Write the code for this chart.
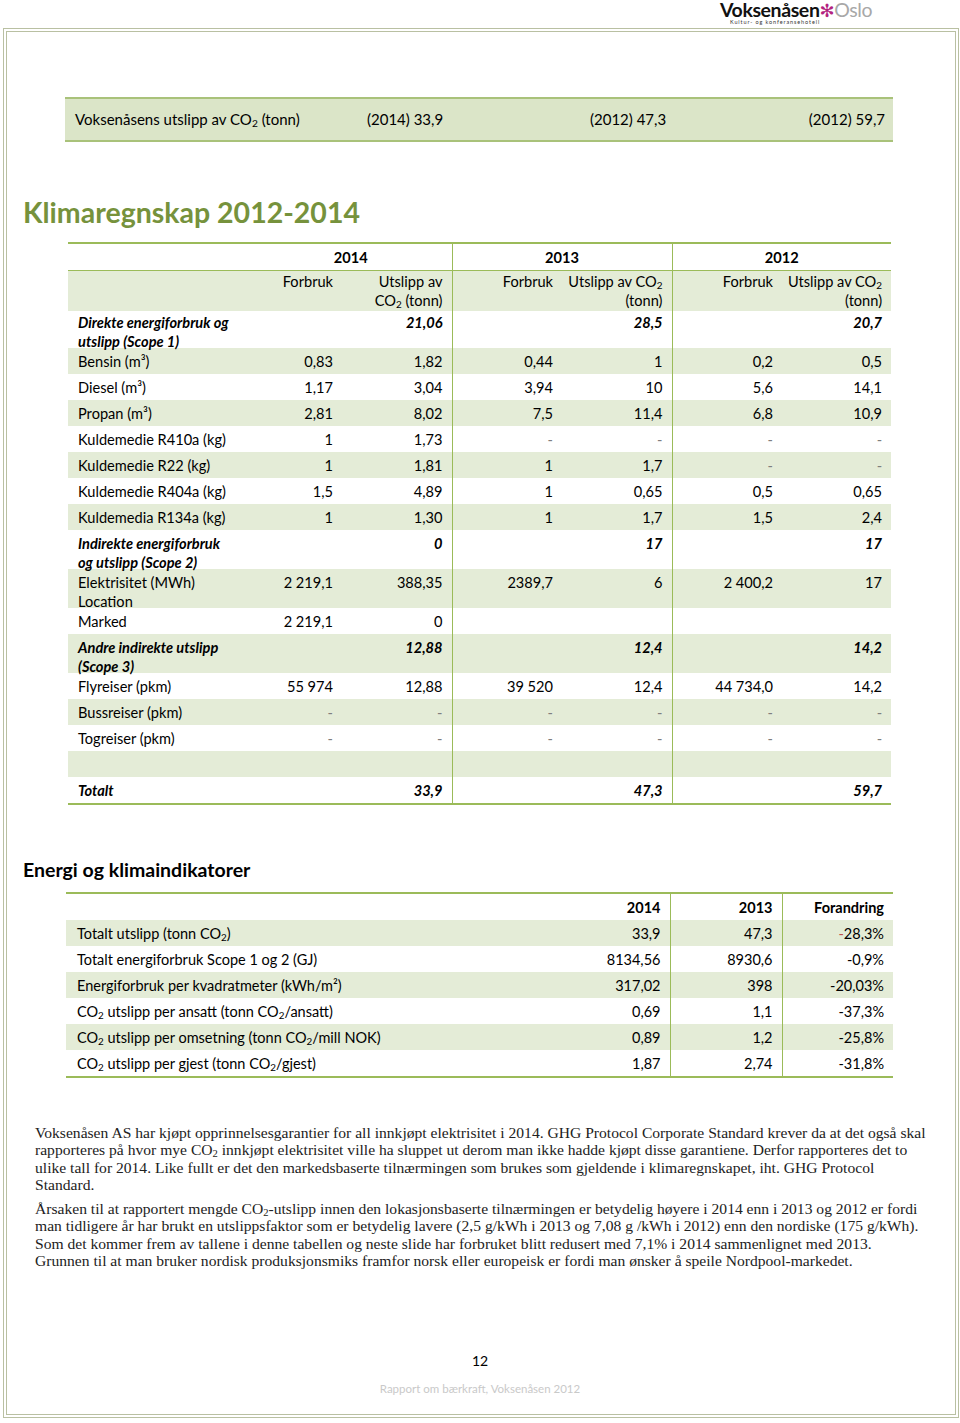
<!DOCTYPE html>
<html>
<head>
<meta charset="utf-8">
<script src="https://cdn.jsdelivr.net/npm/chart.js"></script>
<style>
  body { margin: 0; width: 960px; height: 1423px; background: #fff; position: relative; font-family: Lato, "Open Sans", sans-serif; color: #000; overflow: hidden; }
  .abs { position: absolute; }
  .frame { left: 3px; top: 28px; width: 948px; height: 1382px; border: 4px double #b9c0a2; }
  .logo { left: 720px; top: 2px; height: 20px; font-size: 19.5px; line-height: 15px; letter-spacing: -0.4px; white-space: nowrap; }
  .logo .v { font-weight: 700; color: #111; }
  .logo .f { color: #b3237f; font-family: "DejaVu Sans"; font-size: 18px; }
  .logo .o { color: #a8a8a8; }
  .logo .sub { position: absolute; left: 10px; top: 17px; font-size: 5.5px; line-height: 6px; letter-spacing: 0.9px; color: #333; }
  .bar { left: 65px; top: 97px; width: 828px; height: 41px; background: #dbe5c8; border-top: 2px solid #a9c27a; border-bottom: 2px solid #a9c27a; font-size: 15px; }
  .bar span { position: absolute; top: 11px; white-space: nowrap; }
  sub { font-size: 0.68em; vertical-align: -0.2em; line-height: 0; }
  sup { font-size: 0.68em; vertical-align: 0.45em; line-height: 0; }
  .title { left: 23px; top: 195px; font-size: 28.5px; font-weight: 700; color: #76923c; }
  .h2 { left: 23px; top: 858px; font-size: 19.5px; font-weight: 700; }
  table { border-collapse: collapse; table-layout: fixed; }
  td { padding: 0; vertical-align: top; }
  td > div { box-sizing: border-box; padding: 3.5px 9px 0 10px; line-height: 19px; white-space: pre-line; overflow: visible; }
  td.r > div { padding-left: 2px; }
  .main { left: 68px; top: 242px; width: 823px; font-size: 14.6px; border-top: 2px solid #9bbb59; border-bottom: 2px solid #9bbb59; }
  .main .vr { border-right: 1px solid #9bbb59; }
  .g { background: #e4ecd7; }
  .r { text-align: right; }
  .c { text-align: center; }
  .bi { font-weight: 700; font-style: italic; }
  .b { font-weight: 700; }
  .dash { color: #7f7f7f; }
  .ind { left: 66px; top: 892px; width: 827px; font-size: 14.5px; border-top: 2px solid #9bbb59; border-bottom: 2px solid #9bbb59; }
  .ind td > div { padding-left: 11px; }
  .ind td.r > div { padding-left: 2px; }
  .ind .vr { border-left: 1px solid #9bbb59; }
  .red { color: #c0504d; }
  .para { left: 35px; top: 1124px; font-family: "Liberation Serif", serif; font-size: 15.6px; line-height: 17.3px; color: #222; white-space: nowrap; }
  .para p { margin: 0 0 7px 0; }
  .pnum { left: 0; width: 960px; top: 1352px; text-align: center; font-size: 14px; }
  .foot { left: 0; width: 960px; top: 1382px; text-align: center; font-size: 11.5px; color: #c9c9c9; }
</style>
</head>
<body>
<script>
// summary bar
const summaryLabel = "Voksenåsens utslipp av CO<sub>2</sub> (tonn)";
const summaryValues = ["(2014) 33,9", "(2012) 47,3", "(2012) 59,7"];

// main table
const years = ["2014", "2013", "2012"];
const subHeads = ["Forbruk", "Utslipp av\nCO<sub>2</sub> (tonn)", "Forbruk", "Utslipp av CO<sub>2</sub>\n(tonn)", "Forbruk", "Utslipp av CO<sub>2</sub>\n(tonn)"];
const rowLabels = [
  "Direkte energiforbruk og\nutslipp (Scope 1)", "Bensin (m³)", "Diesel (m³)", "Propan (m³)",
  "Kuldemedie R410a (kg)", "Kuldemedie R22 (kg)", "Kuldemedie R404a (kg)", "Kuldemedia R134a (kg)",
  "Indirekte energiforbruk\nog utslipp (Scope 2)", "Elektrisitet (MWh)\nLocation", "Marked",
  "Andre indirekte utslipp\n(Scope 3)", "Flyreiser (pkm)", "Bussreiser (pkm)", "Togreiser (pkm)", "", "Totalt"
];
const sectionRows = [0, 8, 11, 16];
const forbruk2014 = ["", "0,83", "1,17", "2,81", "1", "1", "1,5", "1", "", "2 219,1", "2 219,1", "", "55 974", "-", "-", "", ""];
const utslipp2014 = ["21,06", "1,82", "3,04", "8,02", "1,73", "1,81", "4,89", "1,30", "0", "388,35", "0", "12,88", "12,88", "-", "-", "", "33,9"];
const forbruk2013 = ["", "0,44", "3,94", "7,5", "-", "1", "1", "1", "", "2389,7", "", "", "39 520", "-", "-", "", ""];
const utslipp2013 = ["28,5", "1", "10", "11,4", "-", "1,7", "0,65", "1,7", "17", "6", "", "12,4", "12,4", "-", "-", "", "47,3"];
const forbruk2012 = ["", "0,2", "5,6", "6,8", "-", "-", "0,5", "1,5", "", "2 400,2", "", "", "44 734,0", "-", "-", "", ""];
const utslipp2012 = ["20,7", "0,5", "14,1", "10,9", "-", "-", "0,65", "2,4", "17", "17", "", "14,2", "14,2", "-", "-", "", "59,7"];

// indicator table
const indHeads = ["2014", "2013", "Forandring"];
const indLabels = [
  "Totalt utslipp (tonn CO<sub>2</sub>)", "Totalt energiforbruk Scope 1 og 2 (GJ)",
  "Energiforbruk per kvadratmeter (kWh/m²)", "CO<sub>2</sub> utslipp per ansatt (tonn CO<sub>2</sub>/ansatt)",
  "CO<sub>2</sub> utslipp per omsetning (tonn CO<sub>2</sub>/mill NOK)", "CO<sub>2</sub> utslipp per gjest (tonn CO<sub>2</sub>/gjest)"
];
const ind2014 = ["33,9", "8134,56", "317,02", "0,69", "0,89", "1,87"];
const ind2013 = ["47,3", "8930,6", "398", "1,1", "1,2", "2,74"];
const indChange = ["-28,3%", "-0,9%", "-20,03%", "-37,3%", "-25,8%", "-31,8%"];

const paragraphs = [
  ["Voksenåsen AS har kjøpt opprinnelsesgarantier for all innkjøpt elektrisitet i 2014. GHG Protocol Corporate Standard krever da at det også skal",
   "rapporteres på hvor mye CO<sub>2</sub> innkjøpt elektrisitet ville ha sluppet ut derom man ikke hadde kjøpt disse garantiene. Derfor rapporteres det to",
   "ulike tall for 2014. Like fullt er det den markedsbaserte tilnærmingen som brukes som gjeldende i klimaregnskapet, iht. GHG Protocol",
   "Standard."],
  ["Årsaken til at rapportert mengde CO<sub>2</sub>-utslipp innen den lokasjonsbaserte tilnærmingen er betydelig høyere i 2014 enn i 2013 og 2012 er fordi",
   "man tidligere år har brukt en utslippsfaktor som er betydelig lavere (2,5 g/kWh i 2013 og 7,08 g /kWh i 2012) enn den nordiske (175 g/kWh).",
   "Som det kommer frem av tallene i denne tabellen og neste slide har forbruket blitt redusert med 7,1% i 2014 sammenlignet med 2013.",
   "Grunnen til at man bruker nordisk produksjonsmiks framfor norsk eller europeisk er fordi man ønsker å speile Nordpool-markedet."]
];

let html = "";
html += `<div class="abs frame"></div>`;
html += `<div class="abs logo"><span class="v">Voksenåsen</span><span class="f">✻</span><span class="o">Oslo</span><div class="sub">Kultur- og konferansehotell</div></div>`;

// summary bar
const barX = [10, 302, 525];
html += `<div class="abs bar"><span style="left:10px">${summaryLabel}</span>`;
summaryValues.forEach((v, i) => {
  html += i < 2 ? `<span style="left:${barX[i + 1]}px">${v}</span>` : `<span style="right:8px">${v}</span>`;
});
html += `</div>`;

html += `<div class="abs title">Klimaregnskap 2012-2014</div>`;

// main table
const series = [forbruk2014, utslipp2014, forbruk2013, utslipp2013, forbruk2012, utslipp2012];
let t = `<table class="abs main"><colgroup><col style="width:182px"><col style="width:92px"><col style="width:110px"><col style="width:110px"><col style="width:110px"><col style="width:110px"><col style="width:109px"></colgroup>`;
t += `<tr style="border-bottom:1px solid #9bbb59"><td></td>`;
years.forEach((y, i) => {
  t += `<td colspan="2" class="c b${i < 2 ? " vr" : ""}"><div style="height:26px;padding:4px 0 0">${y}</div></td>`;
});
t += `</tr><tr class="g"><td><div style="height:40px"></div></td>`;
subHeads.forEach((s, i) => {
  t += `<td class="r${i % 2 === 1 && i < 5 ? " vr" : ""}"><div style="height:40px;padding-top:2px;line-height:18.5px">${s}</div></td>`;
});
t += `</tr>`;
rowLabels.forEach((lab, r) => {
  const sec = sectionRows.includes(r);
  const h = r === 0 ? 37 : (lab.includes("\n") ? 39 : 26);
  const pad = r === 0 ? ";padding-top:1.5px" : "";
  t += `<tr class="${r % 2 === 1 ? "g" : ""}">`;
  t += `<td class="${sec ? "bi" : ""}"><div style="height:${h}px${pad}">${lab}</div></td>`;
  series.forEach((s, i) => {
    const cls = "r" + (sec ? " bi" : "") + (i % 2 === 1 && i < 5 ? " vr" : "");
    t += `<td class="${cls}"><div class="${s[r] === "-" ? "dash" : ""}" style="height:${h}px${pad}">${s[r]}</div></td>`;
  });
  t += `</tr>`;
});
t += `</table>`;
html += t;

html += `<div class="abs h2">Energi og klimaindikatorer</div>`;

// indicator table
let u = `<table class="abs ind"><colgroup><col style="width:524px"><col style="width:80px"><col style="width:112px"><col style="width:111px"></colgroup>`;
u += `<tr><td></td>`;
indHeads.forEach((hd, i) => { u += `<td class="r b${i > 0 ? " vr" : ""}"><div style="height:26px">${hd}</div></td>`; });
u += `</tr>`;
indLabels.forEach((lab, r) => {
  u += `<tr class="${r % 2 === 0 ? "g" : ""}"><td><div style="height:26px">${lab}</div></td>`;
  u += `<td class="r"><div style="height:26px">${ind2014[r]}</div></td>`;
  u += `<td class="r vr"><div style="height:26px">${ind2013[r]}</div></td>`;
  const ch = r === 0 ? `<span class="red">-</span>${indChange[r].slice(1)}` : indChange[r];
  u += `<td class="r vr"><div style="height:26px">${ch}</div></td></tr>`;
});
u += `</table>`;
html += u;

html += `<div class="abs para">` + paragraphs.map(p => `<p>${p.join("<br>")}</p>`).join("") + `</div>`;
html += `<div class="abs pnum">12</div>`;
html += `<div class="abs foot">Rapport om bærkraft, Voksenåsen 2012</div>`;

document.body.insertAdjacentHTML("beforeend", html);
</script>
</body>
</html>
